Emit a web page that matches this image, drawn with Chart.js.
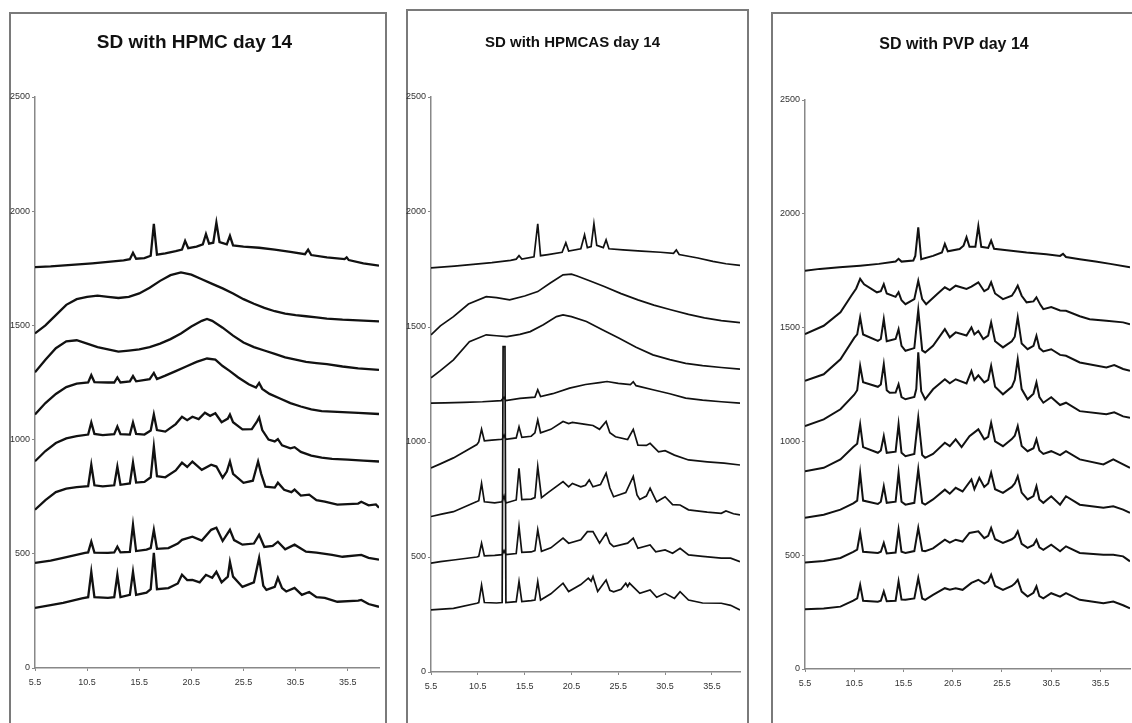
<!DOCTYPE html>
<html>
<head>
<meta charset="utf-8">
<script src="https://cdn.jsdelivr.net/npm/chart.js@4.4.1/dist/chart.umd.min.js"></script>
<style>
html, body { margin: 0; padding: 0; background: #fff; width: 1132px; height: 723px; overflow: hidden; position: relative; }
.Panel { position: absolute; border: 2px solid #7a7a7a; width: 400px; height: 760px; }
canvas { position: absolute; display: block; }
</style>
</head>
<body>
<div class="Panel" style="left:9px;top:12px;width:374px"></div>
<div class="Panel" style="left:406px;top:9px;width:339px"></div>
<div class="Panel" style="left:771px;top:12px"></div>
<canvas id="c1" width="375" height="736" style="left:10px;top:14px"></canvas>
<canvas id="c2" width="342" height="736" style="left:405px;top:11px"></canvas>
<canvas id="c3" width="354" height="736" style="left:778px;top:14px"></canvas>
<script>
// axis ticks (2-theta and counts)
const xTicks = [5.5, 10.5, 15.5, 20.5, 25.5, 30.5, 35.5];
const yTicks = [0, 500, 1000, 1500, 2000, 2500];

// SD with HPMC, traces top to bottom, [2theta, counts]
const hpmc1 = [[5.5,1755],[7,1758],[9,1765],[11,1772],[12.5,1778],[14,1785],[14.6,1790],[14.9,1818],[15.2,1792],[16,1795],[16.6,1805],[16.9,1945],[17.2,1810],[18,1815],[19,1825],[19.6,1832],[19.9,1870],[20.2,1838],[21,1845],[21.6,1855],[21.9,1900],[22.2,1858],[22.6,1862],[22.9,1950],[23.2,1865],[23.9,1855],[24.2,1892],[24.5,1850],[25.5,1845],[27,1840],[28.5,1832],[30,1822],[31.4,1812],[31.7,1832],[32,1808],[33.5,1798],[35.2,1790],[35.4,1798],[35.6,1786],[37,1772],[38.5,1762]];
const hpmc2 = [[5.5,1465],[6.5,1500],[7.5,1545],[8.5,1590],[9.5,1615],[10.5,1625],[11.5,1630],[12.5,1625],[13.5,1620],[14.5,1625],[15.5,1640],[16.5,1665],[17.5,1695],[18.5,1720],[19.5,1732],[20.5,1722],[21.5,1702],[22.5,1682],[23.5,1662],[24.5,1640],[25.5,1615],[26.5,1595],[27.5,1577],[28.5,1562],[29.5,1552],[30.5,1545],[31.5,1540],[32.5,1535],[33.5,1530],[35,1525],[36.5,1522],[38.5,1518]];
const hpmc3 = [[5.5,1295],[6.5,1350],[7.5,1400],[8.5,1430],[9.5,1435],[10.5,1420],[11.5,1405],[12.5,1395],[13.5,1385],[14.5,1390],[15.5,1395],[16.5,1405],[17.5,1420],[18.5,1440],[19.5,1465],[20.5,1495],[21.5,1520],[22,1528],[22.5,1520],[23.5,1490],[24.5,1455],[25.5,1425],[26.5,1405],[27.5,1390],[28.5,1375],[29.5,1360],[30.5,1350],[31.5,1340],[32.5,1335],[33.5,1330],[35,1320],[36.5,1312],[38.5,1305]];
const hpmc4 = [[5.5,1110],[6.5,1160],[7.5,1200],[8.5,1230],[9.5,1245],[10.6,1250],[10.9,1282],[11.2,1252],[12.5,1250],[13.1,1250],[13.4,1272],[13.7,1250],[14.6,1255],[14.9,1278],[15.2,1255],[16.5,1265],[16.9,1292],[17.2,1265],[18,1280],[19,1300],[20,1320],[21,1340],[22,1355],[22.8,1350],[23.5,1322],[24.2,1300],[25,1272],[26,1242],[26.7,1228],[27,1248],[27.3,1222],[28,1200],[29,1180],[30,1160],[31,1145],[32,1132],[33,1125],[35,1120],[36.5,1117],[38.5,1112]];
const hpmc5 = [[5.5,905],[6.5,950],[7.5,985],[8.5,1005],[9.5,1015],[10.6,1022],[10.9,1075],[11.2,1025],[12,1020],[13.1,1024],[13.4,1057],[13.7,1024],[14.6,1022],[14.9,1075],[15.2,1025],[16,1022],[16.6,1040],[16.9,1110],[17.2,1042],[18,1035],[19,1068],[19.6,1100],[20.1,1085],[20.6,1100],[21.2,1090],[21.8,1118],[22.3,1104],[22.8,1115],[23.4,1076],[24,1092],[24.2,1110],[24.5,1076],[25.4,1045],[26.3,1046],[26.8,1080],[27,1097],[27.3,1042],[27.9,1000],[28.5,992],[28.8,1002],[29.2,975],[30,962],[30.4,967],[31,946],[32,930],[33,921],[34,916],[35.5,912],[37,908],[38.5,904]];
const hpmc6 = [[5.5,693],[6.5,735],[7.5,770],[8.5,785],[9.5,792],[10.6,796],[10.9,890],[11.2,800],[12,795],[13.1,800],[13.4,882],[13.7,802],[14.6,808],[14.9,899],[15.2,812],[16,815],[16.6,835],[16.9,969],[17.2,840],[18,835],[19,865],[19.6,899],[20.1,880],[20.6,904],[21.5,868],[22.4,890],[22.9,882],[23.5,833],[23.9,860],[24.2,904],[24.5,850],[25.5,811],[26.4,820],[26.9,904],[27.2,850],[27.6,794],[28.5,790],[28.8,811],[29.4,780],[30.1,770],[30.4,781],[31,755],[31.8,759],[32.5,735],[33.3,728],[34.5,715],[36.5,720],[36.8,728],[37.5,712],[38.2,716],[38.5,702]];
const hpmc7 = [[5.5,460],[7,470],[8.2,482],[10.3,504],[10.6,506],[10.9,553],[11.2,505],[12.5,504],[13.1,506],[13.4,531],[13.7,506],[14.6,508],[14.9,627],[15.2,512],[16.2,518],[16.6,525],[16.9,605],[17.2,522],[18.3,525],[19.2,545],[19.6,561],[20.6,575],[21.5,558],[22.4,605],[22.9,614],[23.5,556],[24.2,605],[24.6,560],[25.4,540],[26.5,545],[27,583],[27.5,530],[28.3,535],[28.8,553],[29.5,520],[30.4,540],[31.5,509],[32.5,505],[34,495],[35,487],[36.8,495],[37.5,482],[38.5,474]];
const hpmc8 = [[5.5,263],[7,275],[8.2,285],[10,305],[10.6,310],[10.9,421],[11.2,310],[12.5,307],[13.1,310],[13.4,408],[13.7,310],[14.6,320],[14.9,421],[15.2,320],[16.2,330],[16.6,345],[16.9,504],[17.2,345],[18.3,350],[19.2,370],[19.6,408],[20.1,385],[20.6,386],[21.3,375],[21.9,408],[22.5,395],[22.9,421],[23.4,375],[24,400],[24.2,465],[24.5,400],[25.4,355],[26.5,375],[27,482],[27.4,360],[27.7,342],[28.5,355],[28.8,395],[29.2,350],[29.6,335],[30.4,351],[31.1,320],[31.8,333],[32.5,310],[33.3,307],[34.5,290],[36.5,295],[36.8,298],[37.5,280],[38.5,268]];

// SD with HPMCAS
const hpmcas1 = [[5.5,1757],[8,1765],[10,1772],[12,1780],[14,1790],[14.6,1795],[14.9,1810],[15.2,1795],[16.5,1805],[16.9,1949],[17.2,1810],[18,1815],[19.5,1825],[19.9,1866],[20.2,1830],[21.5,1840],[21.9,1901],[22.2,1845],[22.6,1850],[22.9,1949],[23.2,1855],[23.9,1845],[24.2,1879],[24.5,1840],[26,1835],[28,1830],[30,1825],[31.4,1820],[31.7,1835],[32,1815],[34,1800],[35.6,1785],[37,1775],[38.5,1768]];
const hpmcas2 = [[5.5,1466],[6.5,1505],[7.9,1545],[9.5,1600],[11.4,1632],[12.5,1628],[13.9,1618],[15.5,1635],[16.9,1654],[18.2,1690],[19.6,1727],[20.5,1730],[21.1,1722],[22.5,1700],[24,1676],[25.8,1645],[27.6,1618],[29.3,1595],[31.1,1575],[33,1555],[34.7,1540],[36.5,1528],[38.5,1519]];
const hpmcas3 = [[5.5,1279],[6.5,1310],[7.9,1357],[9.6,1436],[11.4,1466],[12.5,1462],[13.6,1458],[15,1468],[16.1,1480],[17.5,1510],[18.9,1545],[19.6,1553],[20.5,1545],[22.1,1524],[23.8,1488],[25.6,1451],[27.4,1412],[29.2,1379],[31,1358],[32.7,1342],[34.5,1332],[36.5,1324],[38.5,1317]];
const hpmcas4 = [[5.5,1169],[7,1170],[9,1172],[11,1175],[13,1180],[13.3,1195],[13.5,1180],[15,1190],[16.6,1195],[16.9,1227],[17.2,1198],[18.5,1210],[20.3,1234],[22,1250],[23.5,1258],[24.3,1263],[25.5,1255],[26.8,1250],[27.1,1262],[27.4,1245],[29.2,1227],[31,1210],[32.7,1191],[34.5,1182],[36.5,1175],[38.5,1169]];
const hpmcas5 = [[5.5,887],[6.5,905],[7.9,931],[10.4,989],[10.6,1000],[10.9,1055],[11.2,1005],[12,1008],[13.1,1012],[13.3,1030],[13.5,1012],[14.6,1018],[14.9,1066],[15.2,1020],[16.2,1025],[16.6,1040],[16.9,1096],[17.2,1040],[18.3,1055],[19.6,1089],[20.2,1080],[20.6,1085],[22,1077],[22.8,1072],[23.5,1055],[24.2,1089],[24.6,1040],[25.2,1023],[26.5,1011],[27.1,1055],[27.6,986],[28.5,985],[28.9,994],[29.8,957],[30.5,962],[31.5,943],[33,922],[35,914],[36.8,908],[38.5,900]];
const hpmcas6 = [[5.5,676],[6.5,685],[7.9,697],[10.4,741],[10.6,745],[10.9,820],[11.2,740],[12.3,735],[13.1,740],[13.3,765],[13.5,735],[14.6,748],[14.9,886],[15.2,750],[16.2,752],[16.6,758],[16.9,893],[17.3,758],[18,780],[19.6,828],[20.2,805],[20.6,820],[21.5,805],[22,812],[22.4,835],[22.8,805],[23.6,815],[24.2,864],[24.6,800],[25,762],[26.3,780],[27.1,850],[27.5,770],[27.8,750],[28.5,765],[28.9,799],[29.3,765],[29.6,740],[30.5,762],[31.3,728],[32.1,726],[33,705],[35,695],[36.5,690],[37,700],[37.8,688],[38.5,683]];
const hpmcas7 = [[5.5,473],[6.5,480],[7.9,487],[10.4,500],[10.6,503],[10.9,560],[11.2,505],[12.3,507],[13.1,510],[13.3,528],[13.5,510],[14.6,515],[14.9,632],[15.2,520],[16.2,522],[16.6,528],[16.9,618],[17.3,525],[18.3,540],[19.6,582],[20.2,560],[21.5,575],[22.2,610],[22.8,610],[23.5,560],[24.2,603],[24.6,560],[25,545],[26.5,560],[27.1,582],[27.6,538],[28.9,552],[29.5,523],[30.5,531],[31.3,516],[32.1,538],[33,509],[34.5,503],[36.5,495],[37.5,495],[38.5,480]];
const hpmcas8 = [[5.5,270],[7.9,277],[10.4,299],[10.6,302],[10.9,378],[11.2,302],[12.5,300],[13.1,302],[13.2,1415],[13.4,1415],[13.5,302],[14.6,306],[14.9,393],[15.2,306],[16.2,310],[16.6,313],[16.9,393],[17.2,313],[18.3,340],[19.6,386],[20.2,350],[21.5,380],[22.3,408],[22.6,395],[22.8,415],[23.3,350],[24.2,400],[24.6,355],[25,349],[25.8,360],[26.3,386],[26.5,372],[26.7,386],[27.1,370],[27.8,342],[28.9,357],[29.6,325],[30.5,342],[31.5,320],[32.1,349],[33,313],[34.5,300],[36.5,299],[37.5,290],[38.5,270]];

// SD with PVP
const pvp1 = [[5.5,1750],[7,1758],[9,1765],[11.1,1772],[13,1780],[14.7,1790],[15,1802],[15.3,1790],[16.5,1795],[16.7,1815],[17,1941],[17.3,1800],[18.5,1815],[19.4,1830],[19.7,1868],[20,1835],[21.2,1845],[21.6,1860],[21.9,1897],[22.2,1855],[22.8,1855],[23.1,1946],[23.4,1855],[24.1,1850],[24.4,1882],[24.7,1846],[26,1840],[28,1830],[30,1822],[31.4,1815],[31.7,1824],[32,1810],[33.4,1800],[35,1790],[36.5,1780],[38.5,1765]];
const pvp2 = [[5.5,1471],[7.4,1508],[9.1,1567],[10.2,1640],[10.7,1672],[11.1,1714],[11.5,1690],[12.8,1655],[13.2,1660],[13.5,1691],[13.8,1650],[14.7,1635],[15,1655],[15.3,1620],[15.7,1603],[16.6,1625],[17,1706],[17.4,1625],[17.8,1603],[18.9,1647],[19.7,1677],[20.2,1665],[20.8,1684],[21.9,1670],[22.4,1680],[23.1,1699],[23.7,1660],[24.1,1670],[24.4,1699],[24.8,1650],[25.6,1625],[26.5,1640],[26.8,1660],[27.1,1684],[27.5,1640],[28,1611],[28.7,1615],[29,1633],[29.4,1600],[29.7,1581],[30.5,1590],[31.4,1575],[32,1574],[33.4,1550],[34.4,1537],[36.1,1530],[37.8,1523],[38.5,1515]];
const pvp3 = [[5.5,1266],[7.4,1295],[9.1,1361],[10.5,1455],[10.8,1470],[11.1,1545],[11.4,1470],[12.9,1442],[13.2,1450],[13.5,1537],[13.8,1440],[14.7,1450],[15,1493],[15.3,1420],[15.7,1398],[16.6,1410],[17,1577],[17.4,1400],[17.7,1391],[18.5,1420],[19.7,1493],[20.2,1457],[20.8,1479],[21.9,1465],[22.4,1501],[22.7,1470],[23.1,1485],[23.6,1450],[24.1,1465],[24.4,1523],[24.8,1440],[25.6,1413],[26.5,1440],[26.8,1460],[27.1,1545],[27.5,1430],[28.1,1405],[28.7,1420],[29,1464],[29.3,1410],[29.7,1395],[30.5,1405],[31.4,1380],[32,1376],[33.4,1347],[36.1,1325],[36.9,1335],[37.8,1318],[38.5,1310]];
const pvp4 = [[5.5,1067],[7.4,1097],[9.1,1141],[10.5,1205],[10.8,1225],[11.1,1332],[11.4,1260],[12.9,1240],[13.2,1250],[13.5,1339],[13.8,1225],[14.1,1214],[14.7,1215],[15,1251],[15.3,1195],[15.7,1185],[16.6,1195],[16.8,1230],[17,1391],[17.3,1220],[17.7,1185],[18.5,1229],[19.7,1273],[20.2,1255],[20.8,1273],[21.9,1255],[22.4,1310],[22.7,1270],[23.1,1290],[23.7,1259],[24.1,1270],[24.4,1332],[24.8,1240],[25.6,1207],[26.5,1240],[26.8,1270],[27.1,1361],[27.5,1230],[28.1,1185],[28.7,1210],[29,1259],[29.3,1195],[29.7,1170],[30.5,1194],[31.4,1160],[32,1170],[33.4,1133],[36.1,1119],[36.9,1128],[37.8,1110],[38.5,1104]];
const pvp5 = [[5.5,869],[7.4,884],[9.1,921],[10.4,975],[10.8,990],[11.1,1075],[11.4,975],[12.9,950],[13.2,960],[13.5,1023],[13.8,950],[14.7,955],[15,1075],[15.3,950],[15.7,935],[16.6,945],[17,1104],[17.4,940],[17.7,928],[18.5,945],[19.7,994],[20.2,979],[20.8,1009],[21.4,975],[22.2,1023],[23.1,1053],[23.7,1009],[24.1,1020],[24.4,1082],[24.8,1000],[25.6,979],[26.5,1010],[26.8,1025],[27.1,1067],[27.5,980],[28.1,957],[28.7,970],[29,1009],[29.3,960],[29.7,945],[30.5,957],[31.4,940],[32,957],[33.4,921],[35.8,899],[36.8,921],[37.8,899],[38.5,884]];
const pvp6 = [[5.5,664],[7.4,678],[9.1,700],[10.4,728],[10.8,740],[11.1,862],[11.4,740],[12.9,725],[13.2,735],[13.5,803],[13.8,730],[14.7,735],[15,862],[15.3,735],[15.7,722],[16.6,730],[17,877],[17.4,730],[17.7,722],[18.5,745],[19.7,788],[20.2,770],[20.8,796],[21.5,780],[22.4,833],[22.7,790],[23.2,840],[23.7,800],[24.1,815],[24.4,862],[24.8,790],[25.6,774],[26.5,800],[26.8,815],[27.1,847],[27.5,775],[28.1,745],[28.7,760],[29,803],[29.3,745],[29.7,730],[30.5,759],[31.4,722],[32,759],[33.4,722],[35.8,708],[36.8,715],[37.8,700],[38.5,686]];
const pvp7 = [[5.5,468],[7.4,475],[9.1,488],[10.4,515],[10.8,525],[11.1,598],[11.4,515],[12.9,510],[13.2,515],[13.5,554],[13.8,508],[14.7,512],[15,612],[15.3,515],[15.7,510],[16.6,518],[17,620],[17.4,520],[17.7,518],[18.5,530],[19.7,568],[20.2,555],[20.8,568],[21.5,560],[22.2,598],[23.1,605],[23.7,575],[24.1,585],[24.4,620],[24.8,570],[25.6,554],[26.5,570],[26.8,580],[27.1,605],[27.5,550],[28.1,532],[28.7,545],[29,568],[29.3,535],[29.7,524],[30.5,546],[31.4,517],[32,539],[33.4,510],[35.8,502],[36.8,502],[37.8,495],[38.5,473]];
const pvp8 = [[5.5,263],[7.4,266],[9.1,274],[10.4,300],[10.8,310],[11.1,370],[11.4,300],[12.9,296],[13.2,300],[13.5,341],[13.8,298],[14.7,300],[15,385],[15.3,305],[15.7,304],[16.6,310],[17,400],[17.4,310],[17.7,304],[18.5,326],[19.7,355],[20.2,348],[20.8,355],[21.5,348],[22.4,378],[23.1,392],[23.7,375],[24.1,385],[24.4,414],[24.8,365],[25.6,348],[26.5,365],[26.8,375],[27.1,392],[27.5,340],[28.1,318],[28.7,335],[29,363],[29.3,320],[29.7,310],[30.5,333],[31.4,318],[32,333],[33.4,304],[35.8,289],[36.8,296],[37.8,280],[38.5,267]];

const fontFam = "'Liberation Sans', Arial, sans-serif";

function makePanel(id, title, traces, cfg) {
    const ctx = document.getElementById(id).getContext('2d');
    new Chart(ctx, {
        type: 'line',
        data: {
            datasets: traces.map(t => ({
                data: t.map(p => ({ x: p[0], y: p[1] })),
                borderColor: '#111',
                borderWidth: cfg.lineWidth,
                pointRadius: 0,
                fill: false,
                tension: 0
            }))
        },
        options: {
            responsive: false,
            animation: false,
            layout: { padding: cfg.padding },
            plugins: {
                legend: { display: false },
                tooltip: { enabled: false },
                title: {
                    display: true,
                    text: title,
                    color: '#111',
                    font: { family: fontFam, size: cfg.titleSize, weight: 'bold', lineHeight: 1.2 },
                    padding: cfg.titlePad
                }
            },
            scales: {
                x: {
                    type: 'linear',
                    min: 5.5,
                    max: 38.5,
                    afterBuildTicks: ax => { ax.ticks = xTicks.map(v => ({ value: v })); },
                    afterFit: ax => { ax.height = 30; },
                    ticks: {
                        callback: v => v.toFixed(1),
                        font: { family: fontFam, size: 9 },
                        color: '#333',
                        padding: 6,
                        maxRotation: 0,
                        autoSkip: false
                    },
                    grid: { drawOnChartArea: false, tickLength: 3, color: '#888' },
                    border: { color: '#888', width: 1.5 }
                },
                y: {
                    min: 0,
                    max: 2500,
                    afterBuildTicks: ax => { ax.ticks = yTicks.map(v => ({ value: v })); },
                    afterFit: ax => { ax.width = cfg.yWidth; },
                    ticks: {
                        callback: v => String(v),
                        font: { family: fontFam, size: 9 },
                        color: '#333',
                        padding: 2
                    },
                    grid: { drawOnChartArea: false, tickLength: 3, color: '#888' },
                    border: { color: '#888', width: 1.5 }
                }
            }
        }
    });
}

makePanel('c1', 'SD with HPMC day 14', [hpmc1, hpmc2, hpmc3, hpmc4, hpmc5, hpmc6, hpmc7, hpmc8], {
    lineWidth: 2.3, yWidth: 25, titleSize: 19,
    titlePad: { top: 17.6, bottom: 42.6 },
    padding: { left: 0, right: 6, top: 0, bottom: 52 }
});
makePanel('c2', 'SD with HPMCAS day 14', [hpmcas1, hpmcas2, hpmcas3, hpmcas4, hpmcas5, hpmcas6, hpmcas7, hpmcas8], {
    lineWidth: 1.7, yWidth: 26, titleSize: 15,
    titlePad: { top: 23, bottom: 45 },
    padding: { left: 0, right: 7, top: 0, bottom: 45 }
});
makePanel('c3', 'SD with PVP day 14', [pvp1, pvp2, pvp3, pvp4, pvp5, pvp6, pvp7, pvp8], {
    lineWidth: 2, yWidth: 27, titleSize: 16,
    titlePad: { top: 21.4, bottom: 45.4 },
    padding: { left: 0, right: 2, top: 0, bottom: 51 }
});
</script>
</body>
</html>
